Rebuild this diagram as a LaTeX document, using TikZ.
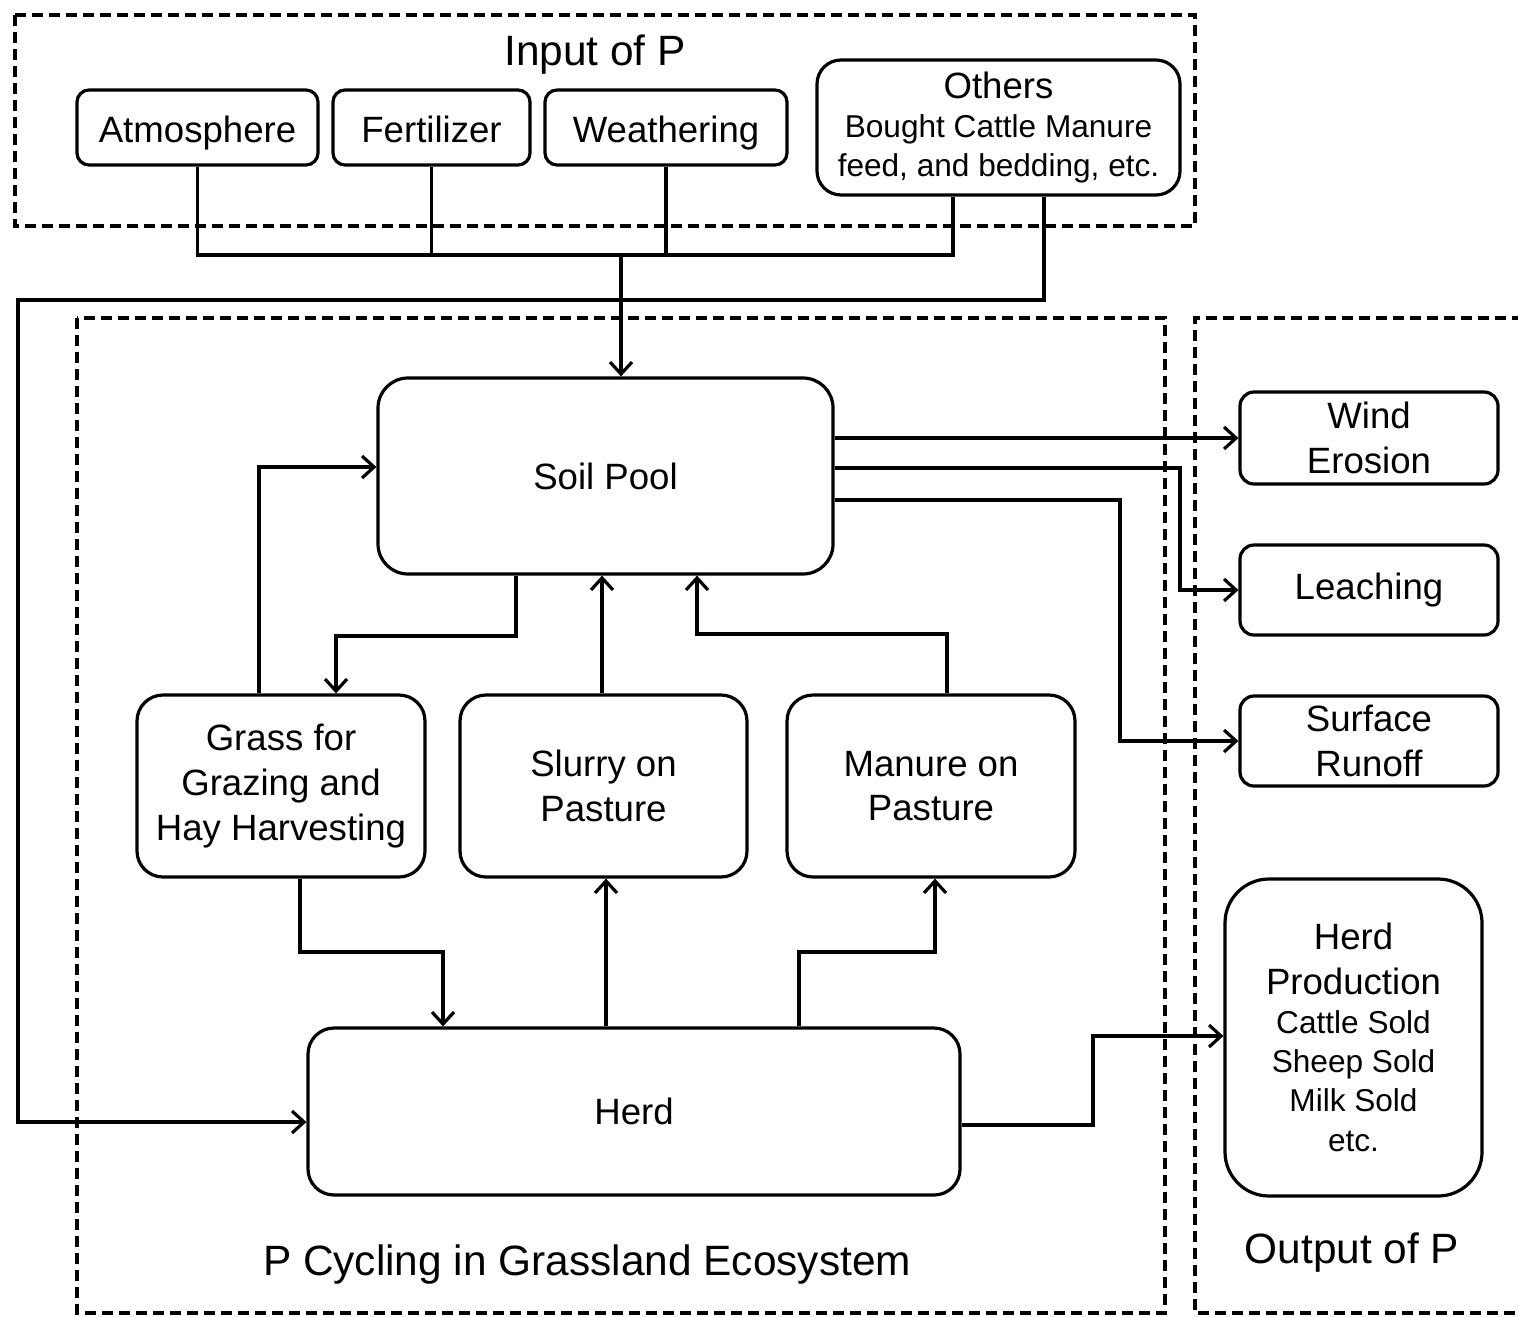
\documentclass[tikz,border=0pt]{standalone}
\usepackage{fontspec}
\setmainfont{Liberation Sans}
\usetikzlibrary{arrows.meta}
\newcommand\myfontA{\fontsize{18.3}{22.3}\selectfont}
\newcommand\myfontB{\fontsize{15.8}{19.5}\selectfont}
\newcommand\myfontT{\fontsize{21.2}{25}\selectfont}
\begin{document}
\begin{tikzpicture}[x=0.5pt,y=-0.5pt,
  frame/.style={line width=2.2pt, dash pattern=on 5.5pt off 3pt},
  ln/.style={line width=1.6pt},
  arr/.style={line width=1.6pt, -{Straight Barb[length=6pt,width=11pt,line width=1.6pt]}},
  box/.style={draw, line width=1.6pt, fill=white, inner sep=0pt, align=center, font=\myfontA},
  onel/.style={text height=16pt, text depth=1.5pt},
  title/.style={font=\myfontT, anchor=base, inner sep=0pt}]
\useasboundingbox (0,0) rectangle (1518,1317);
\fill[white] (0,0) rectangle (1518,1317);
% frames
\draw[frame] (15,15) rectangle (1195,226);
\draw[frame] (77,318) rectangle (1165,1313);
\draw[frame] (1540,318) -- (1195,318) -- (1195,1313) -- (1540,1313);
\node[title] (tin) at (595,65) {Input of P};
\node[title] (tcyc) at (587,1275) {P Cycling in Grassland Ecosystem};
\node[title] (tout) at (1352,1263) {Output of P};
% nodes
\node[box, onel, rounded corners=6pt, minimum width=120.5pt, minimum height=37.5pt] (atm) at (197.5,127.5) {Atmosphere};
\node[box, onel, rounded corners=6pt, minimum width=98.5pt, minimum height=37.5pt] (fert) at (431.5,127.5) {Fertilizer};
\node[box, onel, rounded corners=6pt, minimum width=121pt, minimum height=37.5pt] (weath) at (666,127.5) {Weathering};
\node[box, rounded corners=12pt, minimum width=181.5pt, minimum height=67.5pt] (others) at (998.5,127.5)
  {Others\\[-3pt]{\myfontB Bought Cattle Manure}\\[-3pt]{\myfontB feed, and bedding, etc.}};
\node[box, rounded corners=15pt, minimum width=227.5pt, minimum height=98pt] (soil) at (605.5,476) {Soil Pool};
\node[box, rounded corners=13pt, minimum width=144pt, minimum height=91pt] (grass) at (281,786) {Grass for\\Grazing and\\Hay Harvesting};
\node[box, rounded corners=13pt, minimum width=143.5pt, minimum height=91pt] (slurry) at (603.5,786) {Slurry on\\Pasture};
\node[box, rounded corners=13pt, minimum width=144pt, minimum height=91pt] (manure) at (931,786) {Manure on\\Pasture};
\node[box, rounded corners=13pt, minimum width=326pt, minimum height=83.5pt] (herd) at (634,1111.5) {Herd};
\node[box, rounded corners=7pt, minimum width=129pt, minimum height=46pt] (wind) at (1369,438) {Wind\\Erosion};
\node[box, rounded corners=7pt, minimum width=129pt, minimum height=45pt] (leach) at (1369,590) {Leaching};
\node[box, rounded corners=7pt, minimum width=129pt, minimum height=45pt] (runoff) at (1369,741) {Surface\\Runoff};
\node[box, rounded corners=22pt, minimum width=128.5pt, minimum height=158.5pt] (hprod) at (1353.5,1037.5)
  {Herd\\Production\\[-2.5pt]{\myfontB Cattle Sold}\\[-3pt]{\myfontB Sheep Sold}\\[-3pt]{\myfontB Milk Sold}\\[-2pt]{\myfontB etc.}};
% input connectors
\coordinate (obar) at (953,255);
\coordinate (sin) at (621,255);
\coordinate (lft) at (18,300);
\draw[ln] (atm.south) |- (obar) -- (obar |- others.south);
\draw[ln] (fert.south) -- (fert.south |- obar);
\draw[ln] (weath.south) -- (weath.south |- obar);
\draw[arr] (sin) -- (sin |- soil.north);
\draw[arr] (others.south -| 1044,0) |- (lft) |- (herd.west |- 0,1122);
% soil outputs
\draw[arr] (soil.east |- wind.west) -- (wind.west);
\draw[arr] (soil.east |- 0,468) -| (1180,590) -- (leach.west);
\draw[arr] (soil.east |- 0,500) -| (1120,741) -- (runoff.west);
% inner cycle
\draw[arr] (soil.south -| 516,0) |- (336,636) -- (grass.north -| 336,0);
\draw[arr] (grass.north -| 259,0) |- (soil.west |- 0,467);
\draw[arr] (slurry.north -| 602,0) -- (soil.south -| 602,0);
\draw[arr] (manure.north -| 947,0) |- (697,634) -- (soil.south -| 697,0);
\draw[arr] (grass.south -| 300,0) |- (443,952) -- (herd.north -| 443,0);
\draw[arr] (herd.north -| 606,0) -- (slurry.south -| 606,0);
\draw[arr] (herd.north -| 799,0) |- (935,952) -- (manure.south -| 935,0);
\draw[arr] (herd.east |- 0,1125) -| (1093,1036) -- (hprod.west |- 0,1036);
\end{tikzpicture}
\end{document}
